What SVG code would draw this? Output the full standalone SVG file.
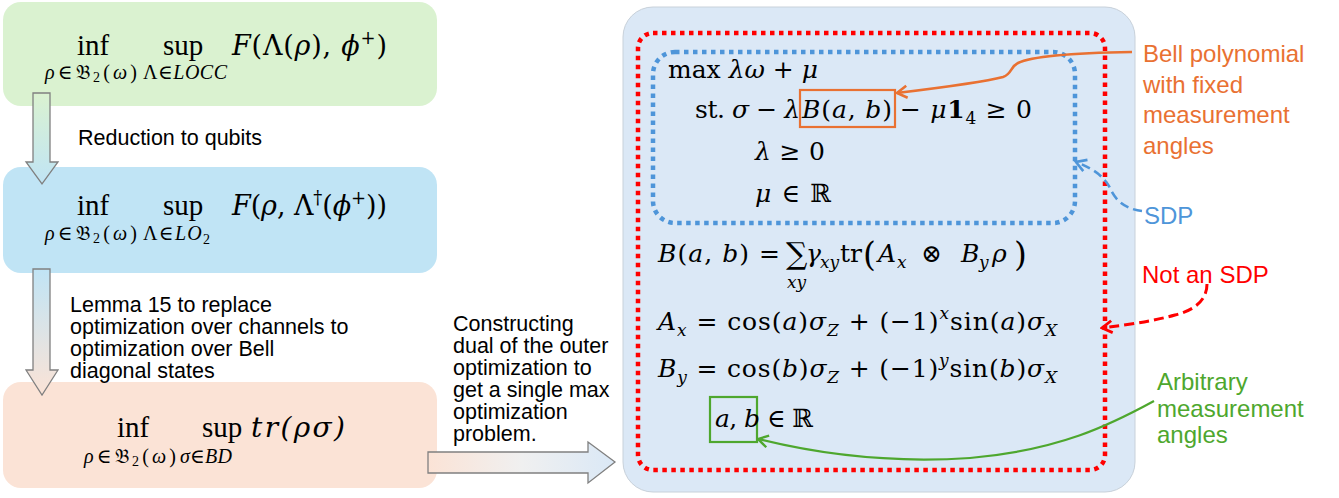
<svg xmlns="http://www.w3.org/2000/svg" width="1339" height="498" viewBox="0 0 1339 498">
<defs>
  <linearGradient id="gA1" x1="0" y1="0" x2="0" y2="1">
    <stop offset="0" stop-color="#DAF2D0"/><stop offset="1" stop-color="#C0E4F5"/>
  </linearGradient>
  <linearGradient id="gA2" x1="0" y1="0" x2="0" y2="1">
    <stop offset="0" stop-color="#C0E4F5"/><stop offset="1" stop-color="#FBE3D6"/>
  </linearGradient>
  <linearGradient id="gA3" x1="0" y1="0" x2="1" y2="0">
    <stop offset="0" stop-color="#FBE3D6"/><stop offset="0.5" stop-color="#F0F0F0"/><stop offset="1" stop-color="#DAE8F6"/>
  </linearGradient>
  <marker id="mO" markerUnits="userSpaceOnUse" markerWidth="16" markerHeight="16" viewBox="0 0 16 16" refX="14" refY="8" orient="auto">
    <path d="M4,2 L14,8 L4,14" fill="none" stroke="#E97132" stroke-width="2.6"/>
  </marker>
  <marker id="mB" markerUnits="userSpaceOnUse" markerWidth="16" markerHeight="16" viewBox="0 0 16 16" refX="14" refY="8" orient="auto">
    <path d="M4,2 L14,8 L4,14" fill="none" stroke="#4E95D9" stroke-width="2.6"/>
  </marker>
  <marker id="mR" markerUnits="userSpaceOnUse" markerWidth="16" markerHeight="16" viewBox="0 0 16 16" refX="14" refY="8" orient="auto">
    <path d="M4,2 L14,8 L4,14" fill="none" stroke="#FF0000" stroke-width="2.8"/>
  </marker>
  <marker id="mG" markerUnits="userSpaceOnUse" markerWidth="16" markerHeight="16" viewBox="0 0 16 16" refX="14" refY="8" orient="auto">
    <path d="M4,2 L14,8 L4,14" fill="none" stroke="#4EA72E" stroke-width="2.4"/>
  </marker>
</defs>
<style>
  .lbl{font-family:"Liberation Sans",Arial,sans-serif;font-size:21.5px;fill:#000}
  .rl{font-family:"Liberation Sans",Arial,sans-serif;font-size:24px}
  .m{font-family:"Liberation Serif","DejaVu Serif",serif;fill:#000}
  .d{font-family:"DejaVu Serif","Liberation Serif",serif;fill:#000}
  .i{font-style:italic}
  .arr{stroke:#808080;stroke-width:1.3}
  .dot{fill:none;stroke-width:4.5;stroke-dasharray:4.5 4.5}
  .conn{fill:none}
</style>

<!-- left column nodes -->
<g id="n-locc">
  <rect x="3" y="2" width="434" height="104" rx="18" fill="#DAF2D0"/>
  <text class="m" font-size="29" x="77" y="55">inf</text>
  <text class="m" font-size="20" x="45" y="79" textLength="92" lengthAdjust="spacing"><tspan class="i">ρ</tspan>∈𝔅<tspan font-size="14" dy="3">2</tspan><tspan dy="-3">(</tspan><tspan class="i">ω</tspan>)</text>
  <text class="m" font-size="29" x="163" y="55">sup</text>
  <text class="m" font-size="20" x="143" y="79" textLength="84" lengthAdjust="spacing">Λ∈<tspan class="i">LOCC</tspan></text>
  <text class="d" font-size="27" x="232" y="55" textLength="155" lengthAdjust="spacing"><tspan class="i">F</tspan>(Λ(<tspan class="i">ρ</tspan>), <tspan class="i">ϕ</tspan><tspan font-size="18" dy="-11">+</tspan><tspan dy="11">)</tspan></text>
</g>

<g id="n-lo2">
  <rect x="3" y="167" width="434" height="106" rx="18" fill="#C0E4F5"/>
  <text class="m" font-size="29" x="77" y="215">inf</text>
  <text class="m" font-size="20" x="45" y="240" textLength="92" lengthAdjust="spacing"><tspan class="i">ρ</tspan>∈𝔅<tspan font-size="14" dy="3">2</tspan><tspan dy="-3">(</tspan><tspan class="i">ω</tspan>)</text>
  <text class="m" font-size="29" x="163" y="215">sup</text>
  <text class="m" font-size="20" x="143" y="240" textLength="67" lengthAdjust="spacing">Λ∈<tspan class="i">LO</tspan><tspan font-size="14" dy="4">2</tspan></text>
  <text class="d" font-size="27" x="232" y="215" textLength="155" lengthAdjust="spacing"><tspan class="i">F</tspan>(<tspan class="i">ρ</tspan>, Λ<tspan font-size="18" dy="-11">†</tspan><tspan dy="11">(</tspan><tspan class="i">ϕ</tspan><tspan font-size="18" dy="-11">+</tspan><tspan dy="11">))</tspan></text>
</g>

<g id="n-bd">
  <rect x="3" y="382" width="434" height="106" rx="18" fill="#FBE3D6"/>
  <text class="m" font-size="29" x="117" y="437">inf</text>
  <text class="m" font-size="20" x="84" y="463" textLength="92" lengthAdjust="spacing"><tspan class="i">ρ</tspan>∈𝔅<tspan font-size="14" dy="3">2</tspan><tspan dy="-3">(</tspan><tspan class="i">ω</tspan>)</text>
  <text class="m" font-size="29" x="202" y="437">sup</text>
  <text class="m" font-size="20" x="180" y="463" textLength="52" lengthAdjust="spacing"><tspan class="i">σ</tspan>∈<tspan class="i">BD</tspan></text>
  <text class="d i" font-size="28" x="251" y="437" textLength="94" lengthAdjust="spacing">tr(ρσ)</text>
</g>

<!-- right node -->
<g id="n-dual">
  <rect x="623" y="7" width="512" height="485" rx="30" fill="#DBE8F6" stroke="#C8D1DA" stroke-width="1"/>
  <rect x="638" y="33" width="467" height="437" rx="15" class="dot" stroke="#FF0000"/>
  <rect x="653" y="52" width="422" height="171" rx="22" class="dot" stroke="#4E95D9" stroke-width="4"/>
  <rect x="800" y="90" width="95" height="37" fill="none" stroke="#E97132" stroke-width="2.2"/>
  <rect x="710" y="397" width="47" height="45" fill="none" stroke="#4EA72E" stroke-width="2.2"/>

  <text class="d" font-size="25" x="668" y="78" textLength="150" lengthAdjust="spacing">max <tspan class="i">λω</tspan> + <tspan class="i">μ</tspan></text>
  <text class="d" font-size="25" x="695" y="118" textLength="105" lengthAdjust="spacing">st. <tspan class="i">σ</tspan> − <tspan class="i">λ</tspan></text>
  <text class="d" font-size="25" x="802" y="118" textLength="90" lengthAdjust="spacing"><tspan class="i">B</tspan>(<tspan class="i">a</tspan>, <tspan class="i">b</tspan>)</text>
  <text class="d" font-size="25" x="900" y="118" textLength="132" lengthAdjust="spacing">− <tspan class="i">μ</tspan><tspan font-weight="bold">1</tspan><tspan font-size="17" dy="6">4</tspan><tspan dy="-6"> ≥ 0</tspan></text>
  <text class="d" font-size="25" x="755" y="160" textLength="70" lengthAdjust="spacing"><tspan class="i">λ</tspan> ≥ 0</text>
  <text class="d" font-size="25" x="755" y="202" textLength="76" lengthAdjust="spacing"><tspan class="i">μ</tspan> ∈ ℝ</text>

  <text class="d" font-size="25" x="658" y="262" textLength="122" lengthAdjust="spacing"><tspan class="i">B</tspan>(<tspan class="i">a</tspan>, <tspan class="i">b</tspan>) =</text>
  <text class="d" font-size="30" x="786" y="264">∑</text>
  <text class="d i" font-size="17" x="787" y="288">xy</text>
  <text class="d i" font-size="25" x="806" y="262">γ</text>
  <text class="d i" font-size="17" x="820" y="268">xy</text>
  <text class="d" font-size="25" x="840" y="262">tr</text>
  <text class="d" font-size="33" x="863" y="266">(</text>
  <text class="d i" font-size="25" x="878" y="262">A</text>
  <text class="d i" font-size="17" x="897" y="268">x</text>
  <text class="d" font-size="25" x="921" y="262">⊗</text>
  <text class="d i" font-size="25" x="961" y="262">B</text>
  <text class="d i" font-size="17" x="979" y="268">y</text>
  <text class="d i" font-size="25" x="992" y="262">ρ</text>
  <text class="d" font-size="33" x="1014" y="266">)</text>

  <text class="d" font-size="25" x="658" y="330" textLength="399" lengthAdjust="spacing"><tspan class="i">A</tspan><tspan class="i" font-size="17" dy="6">x</tspan><tspan dy="-6"> = cos(</tspan><tspan class="i">a</tspan>)<tspan class="i">σ</tspan><tspan class="i" font-size="17" dy="6">Z</tspan><tspan dy="-6"> + (−1)</tspan><tspan class="i" font-size="17" dy="-11">x</tspan><tspan dy="11">sin(</tspan><tspan class="i">a</tspan>)<tspan class="i">σ</tspan><tspan class="i" font-size="17" dy="6">X</tspan></text>
  <text class="d" font-size="25" x="658" y="377" textLength="399" lengthAdjust="spacing"><tspan class="i">B</tspan><tspan class="i" font-size="17" dy="6">y</tspan><tspan dy="-6"> = cos(</tspan><tspan class="i">b</tspan>)<tspan class="i">σ</tspan><tspan class="i" font-size="17" dy="6">Z</tspan><tspan dy="-6"> + (−1)</tspan><tspan class="i" font-size="17" dy="-11">y</tspan><tspan dy="11">sin(</tspan><tspan class="i">b</tspan>)<tspan class="i">σ</tspan><tspan class="i" font-size="17" dy="6">X</tspan></text>
  <text class="d" font-size="25" x="715" y="427" textLength="98" lengthAdjust="spacing"><tspan class="i">a</tspan>, <tspan class="i">b</tspan> ∈ ℝ</text>
</g>

<!-- annotation labels -->
<g id="n-bell">
  <text class="rl" fill="#E97132"><tspan x="1143" y="62">Bell polynomial</tspan><tspan x="1143" y="92.5">with fixed</tspan><tspan x="1143" y="123">measurement</tspan><tspan x="1143" y="153.5">angles</tspan></text>
</g>
<g id="n-sdp"><text class="rl" fill="#4E95D9" x="1144" y="224">SDP</text></g>
<g id="n-notsdp"><text class="rl" fill="#FF0000" x="1142" y="283">Not an SDP</text></g>
<g id="n-arb">
  <text class="rl" fill="#4EA72E"><tspan x="1157" y="390">Arbitrary</tspan><tspan x="1157" y="417">measurement</tspan><tspan x="1157" y="443">angles</tspan></text>
</g>

<!-- connectors -->
<g id="connectors">
  <polygon class="arr" fill="url(#gA1)" points="33,93 50,93 50,162 58,162 42,184 26,162 33,162"/>
  <text class="lbl" x="78" y="145">Reduction to qubits</text>
  <polygon class="arr" fill="url(#gA2)" points="33,269 50,269 50,370 58,370 42,395 26,370 33,370"/>
  <text class="lbl"><tspan x="70" y="312">Lemma 15 to replace</tspan><tspan x="70" y="334">optimization over channels to</tspan><tspan x="70" y="356">optimization over Bell</tspan><tspan x="70" y="378">diagonal states</tspan></text>
  <polygon class="arr" fill="url(#gA3)" points="428,452 588,452 588,442 615,462 588,483 588,473 428,473"/>
  <text class="lbl"><tspan x="453" y="331">Constructing</tspan><tspan x="453" y="353">dual of the outer</tspan><tspan x="453" y="375">optimization to</tspan><tspan x="453" y="397">get a single max</tspan><tspan x="453" y="419">optimization</tspan><tspan x="453" y="441">problem.</tspan></text>

  <path class="conn" d="M1132,52 C1070,53 1030,57 1018,63 C1010,67 1012,74 1003,77 C980,83 930,89 897,93" stroke="#E97132" stroke-width="2.6" marker-end="url(#mO)"/>
  <path class="conn" d="M1142,211 C1125,209 1115,200 1110,188 C1104,176 1092,168 1076,162" stroke="#4E95D9" stroke-width="2.6" stroke-dasharray="9 5" marker-end="url(#mB)"/>
  <path class="conn" d="M1207,284 C1207,300 1195,310 1175,315 C1150,322 1125,325 1102,328" stroke="#FF0000" stroke-width="3" stroke-dasharray="10 5" marker-end="url(#mR)"/>
  <path class="conn" d="M1154,401 C1110,425 1060,450 970,458 C880,464 810,452 758,439" stroke="#4EA72E" stroke-width="2.2" marker-end="url(#mG)"/>
</g>
</svg>
